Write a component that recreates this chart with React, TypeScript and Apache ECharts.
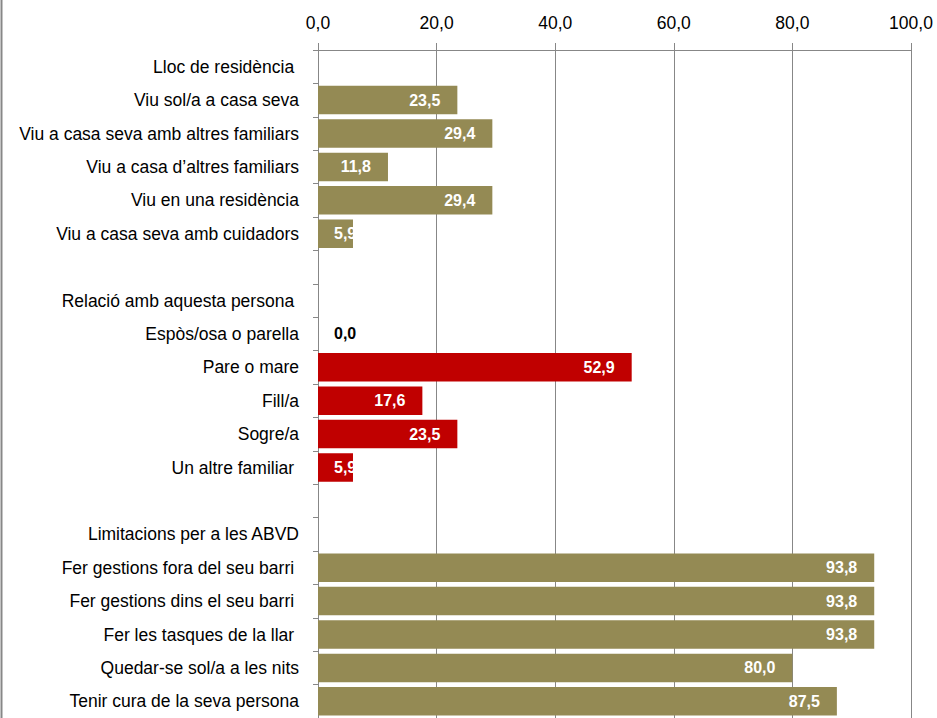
import React, { useEffect, useRef } from "react";
import * as echarts from "echarts";

const categories: string[] = [
  "Lloc de residència ",
  "Viu sol/a a casa seva",
  "Viu a casa seva amb altres familiars",
  "Viu a casa d’altres familiars",
  "Viu en una residència",
  "Viu a casa seva amb cuidadors",
  "",
  "Relació amb aquesta persona ",
  "Espòs/osa o parella",
  "Pare o mare",
  "Fill/a",
  "Sogre/a",
  "Un altre familiar ",
  "",
  "Limitacions per a les ABVD",
  "Fer gestions fora del seu barri ",
  "Fer gestions dins el seu barri ",
  "Fer les tasques de la llar ",
  "Quedar-se sol/a a les nits",
  "Tenir cura de la seva persona",
];

const values: (number | null)[] = [
  null, 23.5, 29.4, 11.8, 29.4, 5.9,
  null,
  null, 0.0, 52.9, 17.6, 23.5, 5.9,
  null,
  null, 93.8, 93.8, 93.8, 80.0, 87.5,
];

// group of each row: 0 = residence, 1 = relation, 2 = limitations
const groups: number[] = [0, 0, 0, 0, 0, 0, 0, 1, 1, 1, 1, 1, 1, 1, 2, 2, 2, 2, 2, 2];

const xTicks = { min: 0, max: 100, interval: 20 };

const OLIVE = "#948A54";
const RED = "#C00000";
const GRAY = "#878787";

const fmt = (v: number) => v.toFixed(1).replace(".", ",");

export default function App() {
  const ref = useRef<HTMLDivElement>(null);

  useEffect(() => {
    if (!ref.current) return;
    const chart = echarts.init(ref.current, null, { renderer: "svg" });

    const data = values.map((v, i) => {
      if (v === null) return { value: "-" as any };
      const color = groups[i] === 1 ? RED : OLIVE;
      let label: any = {
        show: true,
        position: "insideRight",
        distance: 17,
        color: "#fff",
      };
      if (v === 0) {
        label = { show: true, position: "right", distance: 16, color: "#000" };
      } else if (v < 10) {
        label = { show: true, position: "insideLeft", distance: 16, color: "#fff" };
      }
      return { value: v, itemStyle: { color }, label };
    });

    chart.setOption({
      animation: false,
      backgroundColor: "#fff",
      grid: { left: 318, right: 26, top: 50, height: 672, containLabel: false },
      xAxis: {
        type: "value",
        position: "top",
        min: xTicks.min,
        max: xTicks.max,
        interval: xTicks.interval,
        axisLine: { show: true, lineStyle: { color: GRAY, width: 1 } },
        axisTick: { show: true, length: 7, lineStyle: { color: GRAY } },
        splitLine: { show: true, lineStyle: { color: GRAY, width: 1 } },
        axisLabel: {
          formatter: (v: number) => fmt(v),
          fontFamily: "'Liberation Sans', Arial, sans-serif",
          fontSize: 17.5,
          color: "#000",
          margin: 18,
        },
      },
      yAxis: {
        type: "category",
        data: categories,
        inverse: true,
        axisLine: { show: true, lineStyle: { color: GRAY, width: 1 } },
        axisTick: { show: true, length: 5, lineStyle: { color: GRAY } },
        axisLabel: {
          fontFamily: "'Liberation Sans', Arial, sans-serif",
          fontSize: 17.5,
          color: "#000",
          margin: 19,
          interval: 0,
        },
      },
      series: [
        {
          type: "bar",
          data,
          barWidth: 28.5,
          label: {
            formatter: (p: any) => fmt(p.value),
            fontFamily: "'Liberation Sans Narrow', 'Arial Narrow', 'Liberation Sans', sans-serif",
            fontWeight: "bold",
            fontSize: 16,
          },
        },
      ],
      graphic: [
        {
          type: "line",
          shape: { x1: 1.5, y1: 0, x2: 1.5, y2: 718 },
          style: { stroke: GRAY, lineWidth: 2 },
        },
      ],
    });

    return () => chart.dispose();
  }, []);

  return (
    <div
      ref={ref}
      style={{ position: "absolute", left: 0, top: 0, width: 937, height: 718 }}
    />
  );
}
